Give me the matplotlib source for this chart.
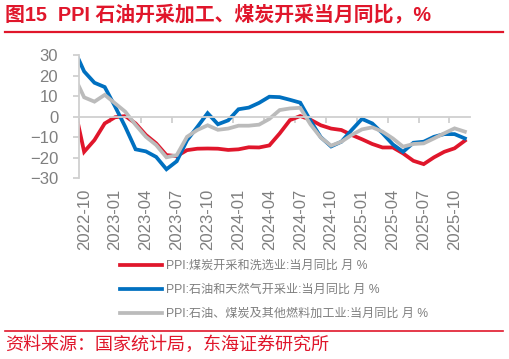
import matplotlib
matplotlib.use('Agg')
import matplotlib.pyplot as plt
from matplotlib.lines import Line2D
import numpy as np
import pandas as pd

plt.rcParams['font.family'] = ['Liberation Sans', 'Noto Sans CJK SC', 'DejaVu Sans']

# 月份：2022-09 ~ 2025-11（2022-09 在坐标轴左边界之外，只用于画出起始线段）
months = pd.date_range('2022-09-01', '2025-11-01', freq='MS').strftime('%Y-%m').tolist()

# PPI:煤炭开采和洗选业:当月同比
coal = [6, -17.1, -11.4, -3.3, -0.3, 0.3, -3.3, -8.9, -13.0, -18.7,
        -19.2, -16.3, -15.6, -15.5, -15.6, -16.2, -15.9, -14.9, -15.0, -14.0,
        -8.2, -1.7, 0.3, -1.5, -4.2, -5.8, -6.5, -8.9, -11.0, -13.3,
        -15.0, -15.0, -17.9, -21.5, -23.1, -19.8, -17.1, -15.4, -11.7]
# PPI:石油和天然气开采业:当月同比
oil = [33, 22.0, 16.5, 14.4, 5.0, -5.0, -15.9, -16.9, -19.6, -25.6,
       -21.7, -11.5, -5.0, 1.7, -3.7, -1.8, 3.6, 4.4, 6.7, 9.7,
       9.5, 8.2, 6.8, -2.0, -10.0, -14.5, -12.2, -6.5, -1.1, -3.3,
       -8.1, -13.5, -17.1, -12.7, -12.2, -9.8, -8.5, -8.5, -10.6]
# PPI:石油、煤炭及其他燃料加工业:当月同比
fuel = [20, 9.4, 7.3, 10.6, 6.5, 2.4, -4.0, -9.8, -13.8, -19.8,
        -18.7, -9.8, -6.5, -4.2, -6.4, -5.8, -4.4, -4.4, -3.9, -1.1,
        3.2, 4.0, 4.3, -3.8, -10.2, -14.1, -12.2, -8.9, -6.2, -5.2,
        -7.3, -10.6, -14.6, -13.3, -13.0, -10.6, -8.1, -5.7, -7.3]

names = ['PPI:煤炭开采和洗选业:当月同比 月 %',
         'PPI:石油和天然气开采业:当月同比 月 %',
         'PPI:石油、煤炭及其他燃料加工业:当月同比 月 %']
colors = ['#E0162B', '#0070C0', '#BBBBBB']

red = '#E0162B'
txt_gray = '#7F7F7F'
axis_gray = '#D0D0D0'

fig = plt.figure(figsize=(5.09, 3.59), dpi=100)
ax = fig.add_axes([79 / 509, 1 - 178.3 / 359, (470 - 79) / 509, (178.3 - 55) / 359])

x = np.arange(len(months)) - 1  # 2022-10 -> 0
lines = []
for ser, c in zip([coal, oil, fuel], colors):
    ln, = ax.plot(x, ser, color=c, lw=2.7, solid_joinstyle='miter')
    lines.append(ln)

ax.set_xlim(-0.5, len(months) - 1.5)
ax.set_ylim(-30, 30)
ax.set_yticks(np.arange(-30, 31, 10))

# x 轴在 0 处，刻度在类别之间
ax.spines['bottom'].set_position(('data', 0))
ax.spines['bottom'].set_color(axis_gray)
ax.spines['bottom'].set_linewidth(1.3)
ax.spines['left'].set_color(axis_gray)
ax.spines['left'].set_linewidth(1.3)
ax.spines['top'].set_visible(False)
ax.spines['right'].set_visible(False)

ax.set_xticks(np.arange(-0.5, len(months) - 1.5, 3))
ax.set_xticklabels([])
ax.tick_params(axis='x', which='major', direction='out', length=4, color=axis_gray, width=1.3)
lab_pos = np.arange(0, len(months) - 1, 3)
ax.set_xticks(lab_pos, minor=True)
ax.set_xticklabels([months[i + 1] for i in lab_pos], minor=True, rotation=90)
ax.tick_params(axis='x', which='minor', length=0, pad=52, labelsize=12, labelcolor=txt_gray)
ax.tick_params(axis='y', direction='out', length=4, color=axis_gray, width=1.3,
               pad=11, labelsize=12, labelcolor=txt_gray)

# 标题
fig.text(5 / 509, 1 - 15 / 359, '图15  PPI 石油开采加工、煤炭开采当月同比，%',
         fontsize=14.3, fontweight='bold', color=red, va='center', ha='left',
         family=['Liberation Sans', 'Noto Sans CJK SC'])
fig.add_artist(Line2D([5 / 509, 503 / 509], [1 - 32 / 359, 1 - 32 / 359], color=red, lw=1.6))

# 图例
fig.legend(lines, names, loc='upper left', bbox_to_anchor=(120 / 509, 1 - 260 / 359),
           frameon=False, fontsize=8.7, handlelength=3.5, handletextpad=0.3,
           labelspacing=1.0, borderpad=0, borderaxespad=0, labelcolor=txt_gray,
           prop={'family': ['Liberation Sans', 'Noto Sans CJK SC'], 'size': 8.7})

# 资料来源
fig.add_artist(Line2D([5 / 509, 503 / 509], [1 - 331 / 359, 1 - 331 / 359], color=red, lw=1.2))
fig.text(5 / 509, 1 - 345 / 359, '资料来源：国家统计局，东海证券研究所', fontsize=13,
         color=red, va='center', ha='left', family=['Noto Sans CJK SC'])

fig.savefig('out.png', dpi=100)
